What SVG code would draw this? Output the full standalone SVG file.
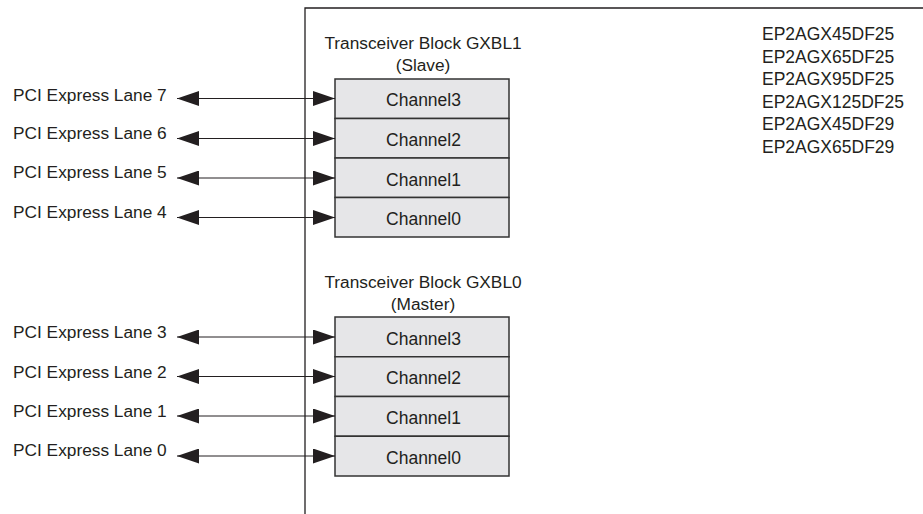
<svg xmlns="http://www.w3.org/2000/svg" width="923" height="514" viewBox="0 0 923 514">
<style>
text{font-family:"Liberation Sans",Arial,sans-serif;fill:#231f20}
.lbl{font-size:17.3px}
.ch{font-size:17.5px;text-anchor:middle}
.ttl{font-size:17.3px;text-anchor:middle}
.dev{font-size:17.5px}
.box{fill:#e6e6e8;stroke:#333;stroke-width:1.5}
.wire{stroke:#231f20;stroke-width:1;fill:none;marker-start:url(#ah);marker-end:url(#ah)}
.frame{stroke:#231f20;stroke-width:1.3;fill:none}
</style>
<defs>
<marker id="ah" markerUnits="userSpaceOnUse" markerWidth="22" markerHeight="15" refX="22" refY="7.5" orient="auto-start-reverse" viewBox="0 0 22 15">
<path d="M0,0 L22,7.5 L0,15 z" fill="#231f20"/>
</marker>
</defs>
<rect width="923" height="514" fill="#fff"/>
<g id="frame">
<path class="frame" d="M305,514 V8 H923"/>
</g>
<g id="devices">
<text class="dev" x="762" y="40">EP2AGX45DF25</text>
<text class="dev" x="762" y="62.7">EP2AGX65DF25</text>
<text class="dev" x="762" y="85">EP2AGX95DF25</text>
<text class="dev" x="762" y="107.7">EP2AGX125DF25</text>
<text class="dev" x="762" y="130">EP2AGX45DF29</text>
<text class="dev" x="762" y="152.7">EP2AGX65DF29</text>
</g>
<g id="gxbl1">
<text class="ttl" x="423" y="48.5">Transceiver Block GXBL1</text>
<text class="ttl" x="423" y="70.5">(Slave)</text>
<g id="gxbl1-ch3"><rect class="box" x="335" y="79" width="174" height="39.5"/><text class="ch" x="423.5" y="106">Channel3</text></g>
<g id="gxbl1-ch2"><rect class="box" x="335" y="118.5" width="174" height="39.5"/><text class="ch" x="423.5" y="146">Channel2</text></g>
<g id="gxbl1-ch1"><rect class="box" x="335" y="158" width="174" height="39.5"/><text class="ch" x="423.5" y="186">Channel1</text></g>
<g id="gxbl1-ch0"><rect class="box" x="335" y="197.5" width="174" height="39.5"/><text class="ch" x="423.5" y="225">Channel0</text></g>
</g>
<g id="gxbl0">
<text class="ttl" x="423" y="287.5">Transceiver Block GXBL0</text>
<text class="ttl" x="423" y="309.5">(Master)</text>
<g id="gxbl0-ch3"><rect class="box" x="335" y="317" width="174" height="39.75"/><text class="ch" x="423.5" y="344.5">Channel3</text></g>
<g id="gxbl0-ch2"><rect class="box" x="335" y="356.75" width="174" height="39.75"/><text class="ch" x="423.5" y="384">Channel2</text></g>
<g id="gxbl0-ch1"><rect class="box" x="335" y="396.5" width="174" height="39.75"/><text class="ch" x="423.5" y="424">Channel1</text></g>
<g id="gxbl0-ch0"><rect class="box" x="335" y="436.25" width="174" height="39.75"/><text class="ch" x="423.5" y="463.5">Channel0</text></g>
</g>
<g id="lanes">
<text class="lbl" x="13" y="101">PCI Express Lane 7</text>
<text class="lbl" x="13" y="138.5">PCI Express Lane 6</text>
<text class="lbl" x="13" y="178">PCI Express Lane 5</text>
<text class="lbl" x="13" y="217.5">PCI Express Lane 4</text>
<text class="lbl" x="13" y="337.5">PCI Express Lane 3</text>
<text class="lbl" x="13" y="377.5">PCI Express Lane 2</text>
<text class="lbl" x="13" y="416.5">PCI Express Lane 1</text>
<text class="lbl" x="13" y="456">PCI Express Lane 0</text>
</g>
<g id="connectors">
<line class="wire" x1="177" y1="98.5" x2="335" y2="98.5"/>
<line class="wire" x1="177" y1="138.5" x2="335" y2="138.5"/>
<line class="wire" x1="177" y1="178" x2="335" y2="178"/>
<line class="wire" x1="177" y1="217.5" x2="335" y2="217.5"/>
<line class="wire" x1="177" y1="337" x2="335" y2="337"/>
<line class="wire" x1="177" y1="376.5" x2="335" y2="376.5"/>
<line class="wire" x1="177" y1="416" x2="335" y2="416"/>
<line class="wire" x1="177" y1="456" x2="335" y2="456"/>
</g>
</svg>
